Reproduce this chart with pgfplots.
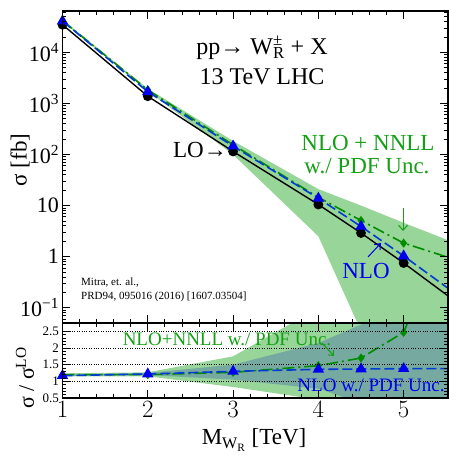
\documentclass[border=0pt]{standalone}
\usepackage{fontspec}
\setmainfont{Liberation Serif}
\usepackage{pgfplots}
\pgfplotsset{compat=1.18}
\usetikzlibrary{arrows.meta}
\definecolor{lgreen}{RGB}{152,213,152}
\definecolor{tealb}{RGB}{118,170,160}
\definecolor{dgreen}{RGB}{0,140,0}
\definecolor{tgreen}{RGB}{20,160,20}
\definecolor{nblue}{RGB}{0,60,210}
\definecolor{tblue}{RGB}{0,0,240}
\newcommand{\fs}[1]{\fontsize{#1}{#1}\selectfont}
\pgfplotsset{
  common/.style={
    scale only axis, width=385.5pt, xmin=1, xmax=5.52,
    xtick={1,2,3,4,5}, minor x tick num=4,
    tick align=inside, major tick length=8pt, minor tick length=4pt,
    axis line style={line width=1.3pt},
    every tick/.style={black, line width=0.8pt},
    axis on top, clip mode=individual,
  }
}
\begin{document}
\begin{tikzpicture}
\useasboundingbox (-62.5pt,-57pt) rectangle (386.5pt,398pt);
% ---------------- main panel ----------------
\begin{axis}[common, at={(0pt,75pt)}, anchor=south west, height=312pt,
  ymode=log, ymin=0.05, ymax=6.5e4, xticklabels={},
  ytick={0.1,1,10,100,1000,10000},
  yticklabels={10\textsuperscript{−1},1,10,10\textsuperscript{2},10\textsuperscript{3},10\textsuperscript{4}},
  minor ytick={0.06,0.07,0.08,0.09,0.2,0.3,0.4,0.5,0.6,0.7,0.8,0.9,2,3,4,5,6,7,8,9,20,30,40,50,60,70,80,90,200,300,400,500,600,700,800,900,2000,3000,4000,5000,6000,7000,8000,9000,20000,30000,40000,50000,60000},
  yticklabel style={font=\fs{22}},
]
% NNLL PDF band
\addplot[draw=none, fill=lgreen] coordinates {
 (1,44000) (2,1950) (3,185) (4,21) (4.5,10) (5,4.6) (5.52,2.1)
 (5.52,0.001) (5,0.001) (4.5,0.035) (4,2.5) (3,100) (2,1750) (1,40000)
} -- cycle;
% LO
\addplot[black, line width=1.4pt, mark=*, mark size=4.2pt, mark indices={1,2,3,4,5,6}] coordinates {
 (1,35000) (2,1390) (3,115) (4,10.5) (4.5,2.9) (5,0.75) (5.52,0.17)};
% NLO+NNLL
\addplot[dgreen, line width=1.6pt, dash pattern=on 12pt off 4pt on 2pt off 4pt,
  mark=diamond*, mark size=3.3pt, mark options={solid}, mark indices={1,2,3,4,5,6}] coordinates {
 (1,42000) (2,1850) (3,155) (4,14.5) (4.5,5.1) (5,1.84) (5.52,0.97)};
% NLO
\addplot[nblue, line width=1.6pt, dash pattern=on 10pt off 4pt,
  mark=triangle*, mark size=5pt, mark options={solid, fill=tblue, draw=tblue}, mark indices={1,2,3,4,5,6}] coordinates {
 (1,41300) (2,1700) (3,146) (4,13.9) (4.5,3.9) (5,1.03) (5.52,0.24)};
\end{axis}
% ---------------- ratio panel ----------------
\begin{axis}[common, at={(0pt,0pt)}, anchor=south west, height=75pt,
  ymin=0.5, ymax=2.75, ytick={0.5,1,1.5,2,2.5}, yticklabels={0.5,1,1.5,2,2.5},
  minor y tick num=4,
  ymajorgrids, grid style={black, dotted, line width=0.7pt},
  yticklabel style={font=\fs{13}}, xticklabel style={font=\fs{27}},
]
\addplot[draw=none, fill=lgreen] coordinates {
 (1,1.24) (2,1.27) (3,1.75) (4,3.2) (4.5,4) (5,6) (5.52,10)
 (5.52,-1) (5,-0.5) (4.5,0.0) (4,0.45) (3,0.83) (2,1.15) (1,1.15)
} -- cycle;
\addplot[draw=none, fill=tealb] coordinates {
 (1,1.2) (2,1.25) (3,1.5) (4,2.15) (4.5,2.7) (5,3.5) (5.52,4.5)
 (5.52,-0.5) (5,0) (4.5,0.35) (4,0.78) (3,1.05) (2,1.19) (1,1.16)
} -- cycle;
\addplot[dgreen, line width=1.6pt, dash pattern=on 12pt off 4pt on 2pt off 4pt,
  mark=diamond*, mark size=3.3pt, mark options={solid}, mark indices={1,2,3,4,5,6}] coordinates {
 (1,1.2) (2,1.2) (3,1.27) (4,1.47) (4.5,1.7) (5,2.47) (5.52,5.7)};
\addplot[nblue, line width=1.6pt, dash pattern=on 10pt off 4pt,
  mark=triangle*, mark size=5pt, mark options={solid, fill=tblue, draw=tblue}, mark indices={1,2,3,4,5,6}] coordinates {
 (1,1.17) (2,1.22) (3,1.30) (4,1.36) (4.5,1.37) (5,1.38) (5.52,1.38)};
\end{axis}
% ---------------- annotations ----------------
\node[font=\fs{24}] at (199.5pt,350pt) {pp→ W\rlap{\textsuperscript{±}}\textsubscript{R} + X};
\node[font=\fs{24}] at (199.5pt,321pt) {13 TeV LHC};
\node[font=\fs{23}] at (137.5pt,248pt) {LO→};
\node[font=\fs{23}, text=tgreen] at (305.5pt,255pt) {NLO + NNLL};
\node[font=\fs{23}, text=tgreen] at (304.5pt,232pt) {w./ PDF Unc.};
\draw[tgreen, line width=1pt, -{Straight Barb[length=5pt,width=9pt]}] (340.5pt,190pt) -- (340.5pt,167pt);
\node[font=\fs{23}, text=tblue] at (303.5pt,127pt) {NLO};
\draw[tblue, line width=1pt, -{Straight Barb[length=5pt,width=8pt]}] (305.5pt,141pt) -- (318.5pt,155pt);
\node[font=\fs{11}, anchor=west, inner sep=0pt] at (18.5pt,115pt) {Mitra, et. al.,};
\node[font=\fs{11}, anchor=west, inner sep=0pt] at (18.5pt,101pt) {PRD94, 095016 (2016) [1607.03504]};
\node[font=\fs{19}, text=tgreen] at (164.5pt,59pt) {NLO+NNLL w./ PDF Unc.};
\draw[tgreen, line width=1pt, -{Straight Barb[length=4pt,width=7pt]}] (259.5pt,55pt) -- (271.5pt,42pt);
\node[font=\fs{19}, text=tblue] at (308.5pt,13pt) {NLO w./ PDF Unc.};
\node[font=\fs{23}] at (191.5pt,-42pt) {M\textsubscript{W\textsubscript{R}} [TeV]};
\node[font=\fs{23}, rotate=90] at (-42.5pt,238pt) {σ [fb]};
\node[font=\fs{22}, rotate=90] at (-37.5pt,20pt) {σ / σ\textsuperscript{LO}};
\end{tikzpicture}
\end{document}
